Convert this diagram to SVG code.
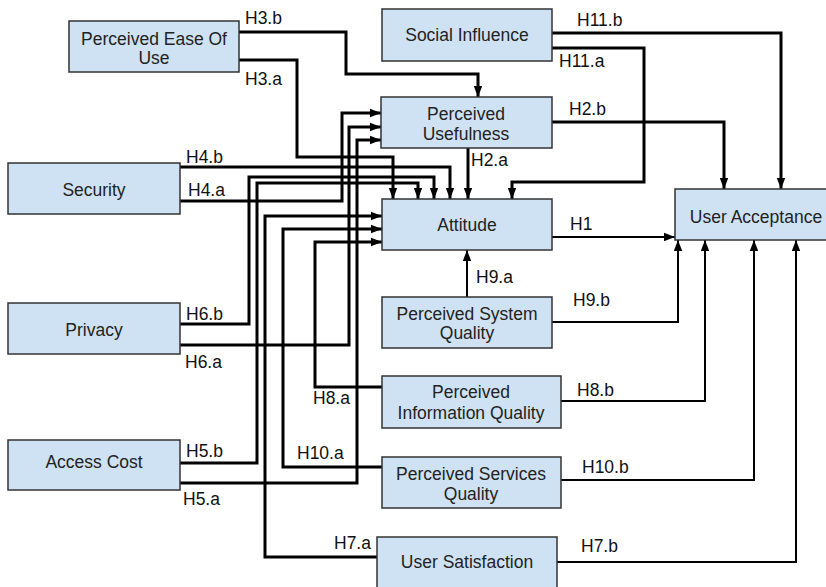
<svg xmlns="http://www.w3.org/2000/svg" width="826" height="587" viewBox="0 0 826 587">
<style>
.box{fill:#cfe2f3;stroke:#333;stroke-width:1.5}
.bt{font-family:"Liberation Sans",Arial,sans-serif;font-size:17.5px;fill:#222;text-anchor:middle}
.lb{font-family:"Liberation Sans",Arial,sans-serif;font-size:17.5px;fill:#111}
.c{fill:none;stroke:#000;stroke-width:3;marker-end:url(#ah)}
.t{fill:none;stroke:#000;stroke-width:2;marker-end:url(#ah)}
</style>
<defs>
<marker id="ah" markerUnits="userSpaceOnUse" markerWidth="11" markerHeight="10" refX="11" refY="5" orient="auto">
<path d="M0,0.8 L11,5 L0,9.2 z" fill="#000"/>
</marker>
</defs>
<rect width="826" height="587" fill="#fff"/>
<g id="connectors">
<path class="c" d="M239,32 H346 V74 H478 V97"/>
<path class="c" d="M239,60 H297 V157 H393 V199"/>
<path class="c" d="M180,167 H450 V199"/>
<path class="c" d="M180,201 H342 V113 H381"/>
<path class="c" d="M180,324 H249 V177 H434 V199"/>
<path class="c" d="M180,345 H349 V127 H381"/>
<path class="c" d="M180,463 H257 V183 H418 V199"/>
<path class="c" d="M180,483 H357 V140 H381"/>
<path class="c" d="M377,557 H265 V216 H382"/>
<path class="c" d="M382,467 H283 V229 H382"/>
<path class="c" d="M382,387 H315 V242 H382"/>
<path class="c" d="M468,148 V199"/>
<path class="c" d="M552,48 H644 V182 H512 V199"/>
<path class="c" d="M552,33 H781 V189"/>
<path class="c" d="M552,122 H724 V189"/>
<path class="t" d="M551,237 H675"/>
<path class="t" d="M467,297 V250"/>
<path class="t" d="M552,322 H678 V240"/>
<path class="t" d="M561,401 H705 V240"/>
<path class="t" d="M561,480 H754 V240"/>
<path class="t" d="M557,562 H796 V240"/>
</g>
<g id="labels">
<text class="lb" x="245" y="24">H3.b</text>
<text class="lb" x="245" y="85">H3.a</text>
<text class="lb" x="186" y="163">H4.b</text>
<text class="lb" x="188" y="196">H4.a</text>
<text class="lb" x="186" y="320">H6.b</text>
<text class="lb" x="185" y="368">H6.a</text>
<text class="lb" x="313" y="404">H8.a</text>
<text class="lb" x="186" y="457">H5.b</text>
<text class="lb" x="297" y="459">H10.a</text>
<text class="lb" x="183" y="505">H5.a</text>
<text class="lb" x="334" y="549">H7.a</text>
<text class="lb" x="577" y="26">H11.b</text>
<text class="lb" x="559" y="67">H11.a</text>
<text class="lb" x="569" y="115">H2.b</text>
<text class="lb" x="471" y="166">H2.a</text>
<text class="lb" x="570" y="230">H1</text>
<text class="lb" x="476" y="283">H9.a</text>
<text class="lb" x="573" y="306">H9.b</text>
<text class="lb" x="577" y="396">H8.b</text>
<text class="lb" x="582" y="473">H10.b</text>
<text class="lb" x="581" y="552">H7.b</text>
</g>
<g id="peou"><rect class="box" x="69" y="21" width="170" height="51"/><text class="bt" x="154" y="45">Perceived Ease Of</text><text class="bt" x="154" y="64">Use</text></g>
<g id="social"><rect class="box" x="382" y="9" width="170" height="52"/><text class="bt" x="467" y="41">Social Influence</text></g>
<g id="pu"><rect class="box" x="381" y="97" width="171" height="51"/><text class="bt" x="466" y="120">Perceived</text><text class="bt" x="466" y="140">Usefulness</text></g>
<g id="attitude"><rect class="box" x="382" y="199" width="170" height="51"/><text class="bt" x="467" y="231">Attitude</text></g>
<g id="ua"><rect class="box" x="675" y="189" width="162" height="51"/><text class="bt" x="756" y="223">User Acceptance</text></g>
<g id="security"><rect class="box" x="8" y="163" width="172" height="51"/><text class="bt" x="94" y="196">Security</text></g>
<g id="privacy"><rect class="box" x="8" y="303" width="172" height="51"/><text class="bt" x="94" y="336">Privacy</text></g>
<g id="access"><rect class="box" x="8" y="440" width="172" height="50"/><text class="bt" x="94" y="468">Access Cost</text></g>
<g id="psysq"><rect class="box" x="382" y="297" width="170" height="51"/><text class="bt" x="467" y="320">Perceived System</text><text class="bt" x="467" y="339">Quality</text></g>
<g id="piq"><rect class="box" x="382" y="376" width="179" height="52"/><text class="bt" x="471" y="398">Perceived</text><text class="bt" x="471" y="419">Information Quality</text></g>
<g id="psq"><rect class="box" x="382" y="457" width="179" height="51"/><text class="bt" x="471" y="480">Perceived Services</text><text class="bt" x="471" y="500">Quality</text></g>
<g id="us"><rect class="box" x="377" y="537" width="180" height="60"/><text class="bt" x="467" y="568">User Satisfaction</text></g>
</svg>
